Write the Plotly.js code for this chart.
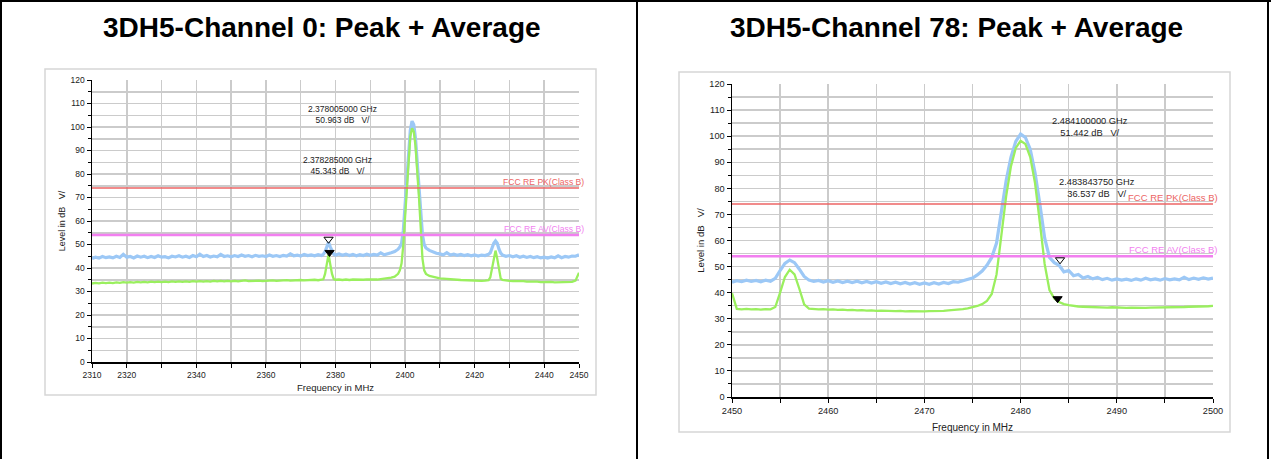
<!DOCTYPE html>
<html>
<head>
<meta charset="utf-8">
<script src="https://cdn.plot.ly/plotly-3.0.1.min.js"></script>
<style>html,body{margin:0;padding:0;background:#fff;}#chart{width:1271px;height:459px;}</style>
</head>
<body>
<div id="chart"></div>
<script>
// ---------- Channel 0 (left) ----------
const leftFreq = [
2310,2311,2312,2313,2314,2315,2316,2317,2318,2319,
2320,2321,2322,2323,2324,2325,2326,2327,2328,2329,
2330,2331,2332,2333,2334,2335,2336,2337,2338,2339,
2340,2341,2342,2343,2344,2345,2346,2347,2348,2349,
2350,2351,2352,2353,2354,2355,2356,2357,2358,2359,
2360,2361,2362,2363,2364,2365,2366,2367,2368,2369,
2370,2371,2372,2373,2374,2375,2376,
2376.5,2377,2377.5,2378,2378.5,2379,2379.5,2380,
2381,2382,2383,2384,2385,2386,2387,2388,2389,2390,2391,2392,2393,2394,2395,2396,2397,
2397.5,2398,2398.5,2399,2399.5,2400,2400.5,2401,2401.5,2402,2402.5,2403,2403.5,2404,2404.5,2405,2405.5,2406,
2407,2408,2409,2410,2411,2412,2413,2414,2415,2416,2417,2418,2419,2420,2421,2422,2423,2424,
2424.5,2425,2425.5,2426,2426.5,2427,2427.5,2428,
2429,2430,2431,2432,2433,2434,2435,2436,2437,2438,2439,2440,2441,2442,2443,2444,2445,2446,2447,2448,2449,2450
];
const leftPeak = [
44.0,44.6,44.2,44.9,44.4,44.7,44.3,45.0,44.5,45.8,
44.6,44.9,44.3,45.1,44.6,45.0,44.4,44.9,44.5,45.2,
44.6,44.8,44.3,45.0,44.7,45.2,44.6,45.0,44.5,45.3,
44.8,45.9,44.9,45.3,44.7,45.1,44.8,45.8,44.9,45.2,
44.8,45.3,44.9,45.5,45.0,45.3,44.8,45.4,45.0,45.2,
44.9,45.5,45.0,45.3,44.9,45.4,45.1,46.0,45.2,45.5,
45.1,45.8,45.3,45.6,45.2,45.7,45.3,
45.8,47.0,49.0,50.9,49.0,47.0,45.8,45.5,
46.0,45.4,45.9,45.3,45.8,45.2,45.7,45.3,45.9,45.4,45.8,45.5,46.4,45.6,46.2,46.5,47.0,
47.5,48.0,49.0,50.5,56.0,68.0,80.0,91.0,98.5,102.5,101.0,95.0,85.0,74.0,63.0,54.0,50.0,48.5,
47.5,46.8,46.3,46.0,45.6,46.5,45.5,45.9,45.4,45.8,45.3,45.7,45.2,45.6,45.1,45.5,45.3,45.8,
46.5,48.5,50.5,51.5,50.5,48.0,46.3,45.5,
45.0,45.3,44.8,45.2,44.6,45.0,44.5,44.9,44.4,44.8,44.3,44.6,44.2,44.7,44.3,45.2,44.4,44.9,44.6,45.1,45.0,45.6
];
const leftAvg = [
33.4,33.7,33.5,33.8,33.6,33.8,33.6,33.9,33.7,34.0,
33.8,34.0,33.8,34.1,33.9,34.1,33.9,34.2,34.0,34.2,
34.0,34.2,34.0,34.3,34.1,34.3,34.1,34.3,34.1,34.4,
34.2,34.4,34.2,34.4,34.2,34.5,34.3,34.5,34.3,34.5,
34.3,34.5,34.3,34.6,34.7,34.4,34.5,34.4,34.6,34.4,
34.6,34.5,34.7,34.5,34.7,34.6,34.8,34.6,34.8,34.7,
34.9,34.7,34.9,34.8,35.0,34.8,35.0,
35.2,37.5,41.5,45.8,41.5,37.5,35.3,35.0,
35.1,34.9,35.1,34.9,35.1,35.0,35.2,35.0,35.2,35.1,35.3,35.1,35.3,35.4,35.6,35.9,36.3,
36.8,37.5,39.0,42.0,50.0,62.0,76.0,88.0,96.0,99.5,98.0,92.0,82.0,70.0,57.0,44.0,39.0,37.5,
36.6,36.2,35.9,35.6,35.5,35.3,35.2,35.1,35.0,34.9,34.8,34.8,34.7,34.6,34.6,34.5,34.6,34.8,
36.0,40.0,45.0,47.4,44.0,39.0,35.5,34.9,
34.6,34.5,34.4,34.5,34.3,34.4,34.2,34.3,34.1,34.2,34.0,34.1,34.0,34.1,33.9,34.0,33.9,34.0,34.0,34.1,34.6,38.0
];
const leftTickVals = [2310,2320,2330,2340,2350,2360,2370,2380,2390,2400,2410,2420,2430,2440,2450];
const leftTickText = ['2310','2320','','2340','','2360','','2380','','2400','','2420','','2440','2450'];
const leftMarkFreq  = [2378.005, 2378.285];   // MHz: peak marker, average marker
const leftMarkLevel = [50.963, 45.343];

// ---------- Channel 78 (right) ----------
const rightFreq = [
2450,2450.5,2451,2451.5,2452,2452.5,2453,2453.5,2454,2454.5,
2455,2455.5,2456,2456.5,2457,2457.5,2458,2458.5,2459,2459.5,
2460,2460.5,2461,2461.5,2462,2462.5,2463,2463.5,2464,2464.5,
2465,2465.5,2466,2466.5,2467,2467.5,2468,2468.5,2469,2469.5,
2470,2470.5,2471,2471.5,2472,2472.5,2473,2473.5,2474,2474.5,
2475,2475.5,2476,2476.5,2477,2477.5,2478,2478.5,2479,2479.5,
2480,2480.5,2481,2481.5,2482,2482.5,2483,2483.5,2484,2484.5,
2485,2485.5,2486,2486.5,2487,2487.5,2488,2488.5,2489,2489.5,
2490,2490.5,2491,2491.5,2492,2492.5,2493,2493.5,2494,2494.5,
2495,2495.5,2496,2496.5,2497,2497.5,2498,2498.5,2499,2499.5,
2500
];
const rightPeak = [
44.0,44.6,44.2,44.8,44.3,44.7,44.2,44.8,44.4,45.5,
48.5,51.2,52.5,51.5,49.0,46.2,44.8,44.3,44.7,44.1,
44.6,44.0,44.5,43.9,44.4,43.9,44.4,43.8,44.3,43.7,
44.2,43.6,44.1,43.5,44.0,43.4,43.9,43.3,43.8,43.2,
43.7,43.2,43.8,43.3,43.9,43.5,44.2,44.0,44.6,45.0,
45.6,46.8,48.3,50.5,53.5,59.0,71.0,83.0,92.0,98.0,
100.8,99.5,95.0,86.0,74.0,61.0,53.5,51.5,50.5,48.0,
48.5,46.5,47.0,45.6,46.2,45.3,45.8,45.0,45.5,44.8,
45.3,44.8,45.2,44.7,45.3,44.8,45.5,44.9,45.3,44.8,
45.4,44.9,45.3,44.9,45.9,45.0,45.6,45.1,45.7,45.2,
45.6
];
const rightAvg = [
39.8,33.8,33.6,33.8,33.6,33.7,33.5,33.7,33.6,34.5,
40.0,46.0,48.8,47.0,41.5,35.5,33.9,33.7,33.6,33.7,
33.5,33.6,33.4,33.5,33.3,33.4,33.2,33.3,33.1,33.2,
33.0,33.1,33.0,33.0,32.9,33.0,32.8,32.9,32.8,32.9,
32.8,32.9,32.9,33.0,33.0,33.2,33.3,33.5,33.7,34.0,
34.4,34.9,35.6,36.8,39.5,47.0,62.0,77.0,88.5,95.5,
98.2,97.0,92.0,82.0,67.0,51.0,41.0,37.8,36.4,35.6,
35.2,34.9,34.7,34.6,34.5,34.5,34.4,34.4,34.3,34.4,
34.3,34.3,34.2,34.3,34.2,34.3,34.2,34.3,34.3,34.3,
34.3,34.4,34.4,34.5,34.5,34.6,34.6,34.7,34.7,34.8,
34.9
];
const rightMarkFreq  = [2484.1, 2483.84375];
const rightMarkLevel = [51.442, 36.537];

// ---------- shared ----------
const limitLevels = [74, 54];
const limitNames  = ['FCC RE PK(Class B)', 'FCC RE AV(Class B)'];
const titles = ['3DH5-Channel 0: Peak + Average', '3DH5-Channel 78: Peak + Average'];
const yTitle = 'Level in dB\u00a0\u00a0\u00a0V/';
const xTitle = 'Frequency in MHz';

const W = 1271, H = 459;
const PX = v => v / W, PY = v => 1 - v / H;
const FONT = 'Liberation Sans, Arial, Helvetica, sans-serif';
const BLUE = '#9cc8f6', GREEN = '#9aef5e', RED = '#ec6464', MAG = '#f27ff0';
const GRID = '#cbcbcb';
const limitColors = [RED, MAG];
const limitWidths = [1.5, 2.5];

function panelTraces(xa, ya, freq, peak, avg, range, markF, markL) {
  const t = [];
  t.push({type:'scatter', mode:'lines', x:freq, y:peak, xaxis:xa, yaxis:ya,
          line:{color:BLUE, width:3.2}, hoverinfo:'skip'});
  t.push({type:'scatter', mode:'lines', x:freq, y:avg, xaxis:xa, yaxis:ya,
          line:{color:GREEN, width:2.3}, hoverinfo:'skip'});
  limitLevels.forEach((lv, i) => {
    t.push({type:'scatter', mode:'lines', x:range, y:[lv, lv], xaxis:xa, yaxis:ya,
            line:{color:limitColors[i], width:limitWidths[i]}, hoverinfo:'skip'});
  });
  t.push({type:'scatter', mode:'markers', x:[markF[0]], y:[markL[0]], xaxis:xa, yaxis:ya,
          marker:{symbol:'triangle-up-open', angle:180, standoff:3, size:8, color:'#000', line:{width:1, color:'#000'}}, hoverinfo:'skip'});
  t.push({type:'scatter', mode:'markers', x:[markF[1]], y:[markL[1]], xaxis:xa, yaxis:ya,
          marker:{symbol:'triangle-up', angle:180, standoff:3, size:8, color:'#000', line:{width:1, color:'#000'}}, hoverinfo:'skip'});
  return t;
}

const leftRange = [2310, 2450], rightRange = [2450, 2500];
const data = [
  ...panelTraces('x', 'y', leftFreq, leftPeak, leftAvg, leftRange, leftMarkFreq, leftMarkLevel),
  ...panelTraces('x2', 'y2', rightFreq, rightPeak, rightAvg, rightRange, rightMarkFreq, rightMarkLevel)
];

function xAxis(domain, anchor, range, fs, tfs, standoff, extra) {
  return Object.assign({
    domain, anchor, range, autorange:false, fixedrange:true,
    showline:true, linecolor:'#000', linewidth:1.5, mirror:false,
    ticks:'outside', ticklen:4, tickwidth:1, tickcolor:'#000',
    showgrid:true, gridcolor:GRID, gridwidth:1.5, zeroline:false,
    tickfont:{size:fs, color:'#222', family:FONT},
    title:{text:xTitle, font:{size:tfs, color:'#222', family:FONT}, standoff:standoff}
  }, extra);
}
function yAxis(domain, anchor, fs, tfs, standoff) {
  return {
    domain, anchor, range:[0,120], autorange:false, fixedrange:true,
    tickmode:'linear', tick0:0, dtick:10,
    showline:true, linecolor:'#000', linewidth:1.5,
    ticks:'outside', ticklen:4, tickwidth:1, tickcolor:'#000',
    showgrid:true, gridcolor:GRID, gridwidth:1.5, zeroline:false,
    minor:{dtick:5, tick0:0, ticks:'outside', ticklen:3, tickwidth:1, tickcolor:'#000', showgrid:true, gridcolor:GRID, gridwidth:1.5},
    tickfont:{size:fs, color:'#222', family:FONT},
    title:{text:yTitle, font:{size:tfs, color:'#222', family:FONT}, standoff:standoff}
  };
}

const layout = {
  width:W, height:H, margin:{l:0, r:0, t:0, b:0},
  paper_bgcolor:'#fff', plot_bgcolor:'#fff', showlegend:false,
  font:{family:FONT, color:'#222'},
  xaxis: xAxis([PX(92), PX(579)], 'y', leftRange, 8.5, 9.5, 5,
               {tickmode:'array', tickvals:leftTickVals, ticktext:leftTickText}),
  yaxis: yAxis([PY(362), PY(80)], 'x', 8.5, 9, 3),
  xaxis2: xAxis([PX(732), PX(1213)], 'y2', rightRange, 9.2, 10, 9,
               {tickmode:'linear', tick0:2450, dtick:10,
                minor:{dtick:5, tick0:2450, ticks:'outside', ticklen:4, tickwidth:1, tickcolor:'#000', showgrid:true, gridcolor:GRID, gridwidth:1.5}}),
  yaxis2: yAxis([PY(397), PY(84)], 'x2', 9.2, 9.6, 3),
  shapes: [
    {type:'rect', xref:'paper', yref:'paper', x0:PX(45), x1:PX(596), y0:PY(395), y1:PY(69), line:{color:'#d6d6d6', width:1.5}, layer:'below'},
    {type:'rect', xref:'paper', yref:'paper', x0:PX(679), x1:PX(1230), y0:PY(432), y1:PY(72), line:{color:'#d6d6d6', width:1.5}, layer:'below'},
    {type:'line', xref:'paper', yref:'paper', x0:PX(1), x1:PX(1), y0:0, y1:1, line:{color:'#000', width:2}},
    {type:'line', xref:'paper', yref:'paper', x0:0, x1:1, y0:PY(1), y1:PY(1), line:{color:'#000', width:2}},
    {type:'line', xref:'paper', yref:'paper', x0:PX(637), x1:PX(637), y0:0, y1:1, line:{color:'#000', width:2}},
    {type:'line', xref:'paper', yref:'paper', x0:PX(1268), x1:PX(1268), y0:0, y1:1, line:{color:'#000', width:2}}
  ],
  annotations: []
};

const ann = layout.annotations;
// titles
ann.push({xref:'paper', yref:'paper', x:PX(322), y:PY(27), text:'<b>'+titles[0]+'</b>', showarrow:false,
          xanchor:'center', yanchor:'middle', font:{size:28, color:'#000', family:FONT}});
ann.push({xref:'paper', yref:'paper', x:PX(956), y:PY(27), text:'<b>'+titles[1]+'</b>', showarrow:false,
          xanchor:'center', yanchor:'middle', font:{size:28, color:'#000', family:FONT}});

function markerText(f, l) {
  return (f / 1000).toFixed(9) + ' GHz<br>' + l.toFixed(3) + ' dB\u00a0\u00a0\u00a0V/';
}
// marker readouts (positioned in data coordinates)
const leftReadPos  = [[2382.1, 105.3], [2380.5, 83.8]];
const rightReadPos = [[2487.2, 103.4], [2487.9, 80.2]];
[0,1].forEach(i => {
  ann.push({xref:'x', yref:'y', x:leftReadPos[i][0], y:leftReadPos[i][1], text:markerText(leftMarkFreq[i], leftMarkLevel[i]),
            showarrow:false, xanchor:'center', yanchor:'middle', align:'center', font:{size:8.5, color:'#222', family:FONT}});
  ann.push({xref:'x2', yref:'y2', x:rightReadPos[i][0], y:rightReadPos[i][1], text:markerText(rightMarkFreq[i], rightMarkLevel[i]),
            showarrow:false, xanchor:'center', yanchor:'middle', align:'center', font:{size:9.3, color:'#222', family:FONT}});
});
// limit line labels
limitLevels.forEach((lv, i) => {
  ann.push({xref:'x', yref:'y', x:leftRange[1], y:lv, text:limitNames[i], showarrow:false,
            xanchor:'right', yanchor:'bottom', xshift:7, yshift:-1, font:{size:8.6, color:limitColors[i], family:FONT}});
  ann.push({xref:'x2', yref:'y2', x:rightRange[1], y:lv, text:limitNames[i], showarrow:false,
            xanchor:'right', yanchor:'bottom', xshift:7, yshift:-1, font:{size:9.5, color:limitColors[i], family:FONT}});
});

Plotly.newPlot('chart', data, layout, {staticPlot:true, displayModeBar:false});
</script>
</body>
</html>
